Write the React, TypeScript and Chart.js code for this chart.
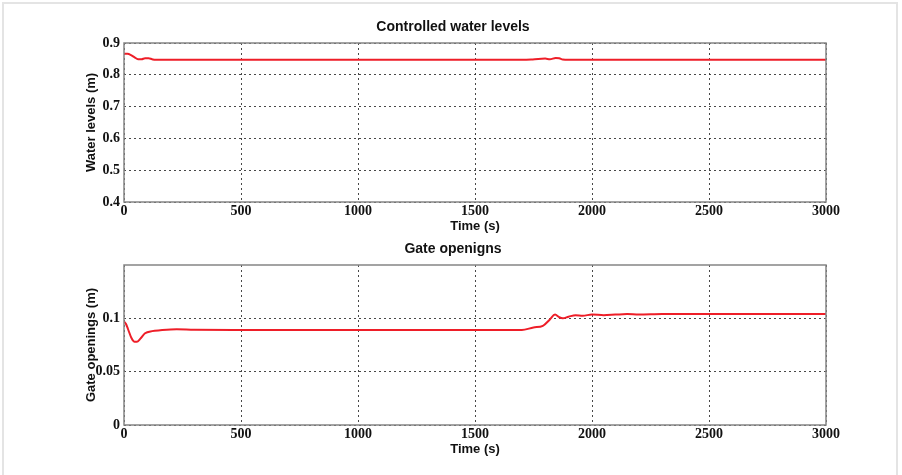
import React, { useEffect, useRef } from 'react';
import { Chart, registerables } from 'chart.js';

Chart.register(...registerables);

// ---- data ----
const timeTicks = [0, 500, 1000, 1500, 2000, 2500, 3000];
const levelTicks = [0.4, 0.5, 0.6, 0.7, 0.8, 0.9];
const gateTicks = [0, 0.05, 0.1];

const levelTimes = [0, 15, 30, 45, 60, 75, 90, 105, 120, 135, 150, 300, 600, 1000, 1500, 1700, 1740, 1770, 1800, 1820, 1845, 1860, 1875, 1900, 2200, 2600, 3000];
const levelValues = [0.866, 0.866, 0.862, 0.855, 0.849, 0.849, 0.852, 0.852, 0.849, 0.847, 0.847, 0.847, 0.847, 0.847, 0.847, 0.847, 0.848, 0.85, 0.851, 0.849, 0.853, 0.852, 0.848, 0.847, 0.847, 0.847, 0.847];

const gateTimes = [0, 8, 17, 33, 45, 55, 70, 90, 120, 155, 225, 300, 500, 1000, 1500, 1700, 1750, 1790, 1820, 1842, 1860, 1875, 1900, 1930, 1960, 2000, 2050, 2100, 2150, 2200, 2300, 2600, 3000];
const gateValues = [0.097, 0.095, 0.09, 0.081, 0.078, 0.078, 0.081, 0.086, 0.088, 0.0888, 0.0897, 0.0892, 0.089, 0.089, 0.089, 0.089, 0.0915, 0.093, 0.099, 0.1035, 0.101, 0.1, 0.1015, 0.103, 0.1025, 0.1035, 0.103, 0.1035, 0.104, 0.1035, 0.104, 0.104, 0.104];

const LINE_RED = 'rgb(238,30,40)';
const GRID = 'rgba(40,40,40,0.85)';
const FRAME = '#858585';

const framePlugin = {
  id: 'frameBox',
  afterDraw(chart: any) {
    const { ctx, chartArea } = chart;
    const { left, top, right, bottom } = chartArea;
    ctx.save();
    ctx.strokeStyle = FRAME;
    ctx.lineWidth = 1.5;
    ctx.setLineDash([]);
    ctx.strokeRect(left, top, right - left, bottom - top);
    ctx.restore();
  },
};

function makeConfig(p: {
  title: string;
  padTop: number;
  padBottom: number;
  times: number[];
  values: number[];
  yMin: number;
  yMax: number;
  yTicks: number[];
  yLabel: string;
  yFmt: (v: number) => string;
}) {
  const tickFont = { family: '"Liberation Serif", "Times New Roman", serif', size: 14, weight: 'bold' as const };
  const titleFont = { family: '"Liberation Sans", Arial, sans-serif', size: 13, weight: 'bold' as const };
  return {
    type: 'line' as const,
    data: {
      datasets: [
        {
          data: p.times.map((t, i) => ({ x: t, y: p.values[i] })),
          borderColor: LINE_RED,
          borderWidth: 2,
          pointRadius: 0,
          fill: false,
          cubicInterpolationMode: 'monotone' as const,
        },
      ],
    },
    options: {
      responsive: false,
      animation: false as const,
      layout: { padding: { left: 80, right: 76, top: 0, bottom: 0 } },
      plugins: {
        legend: { display: false },
        tooltip: { enabled: false },
        title: {
          display: true,
          text: p.title,
          color: '#111',
          font: { family: '"Liberation Sans", Arial, sans-serif', size: 14, weight: 'bold' as const },
          padding: { top: p.padTop, bottom: p.padBottom },
        },
      },
      scales: {
        x: {
          type: 'linear' as const,
          min: 0,
          max: 3000,
          afterBuildTicks: (s: any) => {
            s.ticks = timeTicks.map((v) => ({ value: v }));
          },
          afterFit: (s: any) => {
            s.height = 36;
          },
          ticks: {
            color: '#111',
            font: tickFont,
            padding: 1,
            maxRotation: 0,
            callback: (v: any) => String(v),
          },
          grid: { color: GRID, lineWidth: 1, drawTicks: false },
          border: { display: false, dash: [2, 3] },
          title: { display: true, text: 'Time (s)', color: '#111', font: titleFont, padding: { top: 4, bottom: 4 } },
        },
        y: {
          type: 'linear' as const,
          min: p.yMin,
          max: p.yMax,
          afterBuildTicks: (s: any) => {
            s.ticks = p.yTicks.map((v) => ({ value: v }));
          },
          afterFit: (s: any) => {
            s.width = 44;
          },
          ticks: {
            color: '#111',
            font: tickFont,
            padding: 4,
            callback: (v: any) => p.yFmt(Number(v)),
          },
          grid: { color: GRID, lineWidth: 1, drawTicks: false },
          border: { display: false, dash: [2, 3] },
          title: { display: true, text: p.yLabel, color: '#111', font: titleFont, padding: { top: 4, bottom: 4 } },
        },
      },
    },
    plugins: [framePlugin],
  };
}

export default function App() {
  const ref1 = useRef<HTMLCanvasElement | null>(null);
  const ref2 = useRef<HTMLCanvasElement | null>(null);

  useEffect(() => {
    const c1 = new Chart(
      ref1.current as HTMLCanvasElement,
      makeConfig({
        title: 'Controlled water levels',
        padTop: 18.6,
        padBottom: 7.6,
        times: levelTimes,
        values: levelValues,
        yMin: 0.4,
        yMax: 0.9,
        yTicks: levelTicks,
        yLabel: 'Water levels (m)',
        yFmt: (v) => v.toFixed(1),
      }) as any
    );
    const c2 = new Chart(
      ref2.current as HTMLCanvasElement,
      makeConfig({
        title: 'Gate openigns',
        padTop: 2.6,
        padBottom: 7.6,
        times: gateTimes,
        values: gateValues,
        yMin: 0,
        yMax: 0.15,
        yTicks: gateTicks,
        yLabel: 'Gate openings (m)',
        yFmt: (v) => String(v),
      }) as any
    );
    return () => {
      c1.destroy();
      c2.destroy();
    };
  }, []);

  return (
    <div style={{ position: 'absolute', left: 0, top: 0, width: 902, height: 475, background: '#fff', overflow: 'hidden' }}>
      <div
        style={{
          position: 'absolute',
          left: 2,
          top: 2,
          width: 896,
          height: 480,
          border: '2px solid #e4e4e4',
          boxSizing: 'border-box',
        }}
      />
      <canvas ref={ref1} width={902} height={238} style={{ position: 'absolute', left: 0, top: 0, width: 902, height: 238 }} />
      <canvas ref={ref2} width={902} height={223} style={{ position: 'absolute', left: 0, top: 238, width: 902, height: 223 }} />
    </div>
  );
}
